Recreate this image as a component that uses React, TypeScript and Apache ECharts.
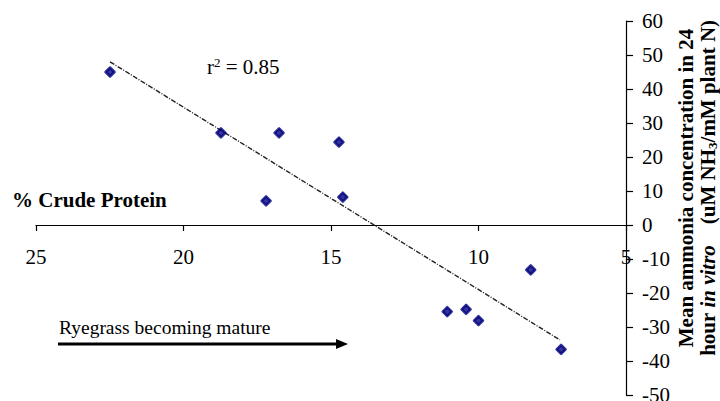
import React, { useEffect, useRef } from "react";
import * as echarts from "echarts";

const crudeProtein = [22.49, 18.73, 16.76, 14.73, 17.2, 14.6, 11.06, 10.42, 10.0, 8.23, 7.2];
const ammonia = [45.0, 27.1, 27.1, 24.4, 7.1, 8.2, -25.5, -24.8, -28.1, -13.2, -36.6];
const trendX = [22.49, 7.24];
const trendY = [48.0, -33.8];
const xMin = 5;
const xMax = 25;
const yMin = -50;
const yMax = 60;

const SERIF = "'Liberation Serif', 'Times New Roman', serif";
const LABEL = { fontSize: 21, fontFamily: SERIF, color: "#000" };

export default function App() {
  const ref = useRef<HTMLDivElement>(null);
  useEffect(() => {
    if (!ref.current) return;
    const chart = echarts.init(ref.current, undefined, { renderer: "svg" });
    const points = crudeProtein.map((x, i) => [x, ammonia[i]]);
    const trend = trendX.map((x, i) => [x, trendY[i]]);
    chart.setOption({
      animation: false,
      backgroundColor: "#ffffff",
      grid: [
        { left: 36, right: 94, top: 21, bottom: 6, containLabel: false, outerBoundsMode: "none" },
        { left: 36, right: 94, top: 21, bottom: 176, containLabel: false, outerBoundsMode: "none" },
      ],
      xAxis: [
        {
          gridIndex: 0,
          type: "value",
          inverse: true,
          min: xMin,
          max: xMax,
          interval: 5,
          show: false,
          splitLine: { show: false },
        },
        {
          gridIndex: 1,
          type: "value",
          inverse: true,
          position: "bottom",
          min: xMin,
          max: xMax,
          interval: 5,
          axisLine: { onZero: false, lineStyle: { color: "#000", width: 1.2 } },
          axisTick: { show: true, length: 6, lineStyle: { color: "#000", width: 1.2 } },
          axisLabel: { margin: 21, ...LABEL },
          splitLine: { show: false },
        },
      ],
      yAxis: [
        {
          gridIndex: 0,
          type: "value",
          position: "right",
          min: yMin,
          max: yMax,
          interval: 10,
          axisLine: { show: true, onZero: false, lineStyle: { color: "#000", width: 1.2 } },
          axisTick: { show: true, length: 7, lineStyle: { color: "#000", width: 1.2 } },
          axisLabel: { margin: 16, ...LABEL },
          splitLine: { show: false },
        },
        {
          gridIndex: 1,
          type: "value",
          min: 0,
          max: 1,
          show: false,
          splitLine: { show: false },
        },
      ],
      series: [
        {
          type: "line",
          xAxisIndex: 0,
          yAxisIndex: 0,
          data: trend,
          symbol: "none",
          lineStyle: { color: "#222", width: 1.4, type: [5, 1.5, 1, 1.5] },
          z: 2,
        },
        {
          type: "scatter",
          xAxisIndex: 0,
          yAxisIndex: 0,
          data: points,
          symbol: "diamond",
          symbolSize: 9,
          itemStyle: { color: "#000080", borderColor: "#000080", borderWidth: 2.5, borderJoin: "round" },
          z: 3,
        },
      ],
      graphic: [
        {
          type: "text",
          left: 12,
          top: 189,
          style: { text: "% Crude Protein", font: `bold 21px ${SERIF}`, fill: "#000" },
        },
        {
          type: "text",
          x: 207,
          y: 67,
          style: {
            text: "{a|r}{s|2}{a| = 0.85}",
            textVerticalAlign: "middle",
            rich: {
              a: { fontSize: 21, fontFamily: SERIF, color: "#000" },
              s: { fontSize: 13, fontFamily: SERIF, color: "#000", verticalAlign: "top", padding: [0, 0, 9, 0] },
            },
          },
        },
        {
          type: "text",
          x: 59,
          y: 327,
          style: {
            text: "Ryegrass becoming mature",
            textVerticalAlign: "middle",
            font: `19.5px ${SERIF}`,
            fill: "#000",
          },
        },
        {
          type: "line",
          shape: { x1: 58, y1: 344, x2: 338, y2: 344 },
          style: { stroke: "#000", lineWidth: 3 },
        },
        {
          type: "polygon",
          shape: { points: [[336, 339], [348, 344], [336, 349]] },
          style: { fill: "#000" },
        },
        {
          type: "text",
          x: 686,
          y: 188,
          rotation: Math.PI / 2,
          style: {
            text: "Mean ammonia concentration in 24",
            textAlign: "center",
            textVerticalAlign: "middle",
            font: `bold 21px ${SERIF}`,
            fill: "#000",
          },
        },
        {
          type: "text",
          x: 708,
          y: 188,
          rotation: Math.PI / 2,
          style: {
            text: "{b|hour }{i|in vitro}{b|    (uM NH}{sub|3}{b|/mM plant N)}",
            textAlign: "center",
            textVerticalAlign: "middle",
            rich: {
              b: { fontSize: 21, fontWeight: "bold", fontFamily: SERIF, color: "#000" },
              i: { fontSize: 21, fontWeight: "bold", fontStyle: "italic", fontFamily: SERIF, color: "#000" },
              sub: { fontSize: 13, fontWeight: "bold", fontFamily: SERIF, color: "#000", verticalAlign: "bottom", padding: [7, 0, 0, 0] },
            },
          },
        },
      ],
    });
    return () => chart.dispose();
  }, []);
  return <div ref={ref} style={{ width: 720, height: 401, position: "absolute", left: 0, top: 0 }} />;
}
